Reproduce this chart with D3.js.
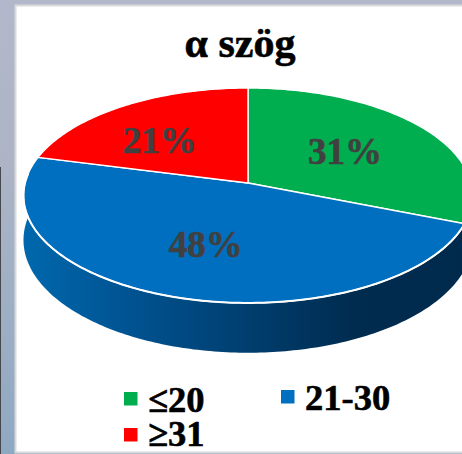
<!DOCTYPE html>
<html lang="hu">
<head>
<meta charset="utf-8">
<title>α szög</title>
<script src="https://cdn.jsdelivr.net/npm/d3@7"></script>
<style>
  html, body { margin: 0; padding: 0; background: #fff; overflow: hidden; }
  svg { display: block; }
  text { font-family: "Liberation Serif", serif; font-weight: bold; paint-order: stroke; stroke-width: 0.6px; stroke-linejoin: round; }
</style>
</head>
<body>
<svg id="chart" width="462" height="454"></svg>
<script>
// Slice categories and shares, clockwise from twelve o'clock
const categories = ["≤20", "21-30", "≥31"];
const shares = [31, 48, 21];
const sliceColors = ["#00ae4f", "#006fc0", "#ff0000"];
const chartTitle = "α szög";

const W = 462, H = 454;
const svg = d3.select("#chart");
const defs = svg.append("defs");

// Slide backdrop behind the white panel
const bg = defs.append("linearGradient").attr("id", "slideBg")
  .attr("x1", 0).attr("y1", 0).attr("x2", 0).attr("y2", 1);
[[0, "#b3b7cb"], [0.35, "#adb4c6"], [0.65, "#9fb0c4"], [1, "#8fa8c2"]]
  .forEach(([o, c]) => bg.append("stop").attr("offset", o).attr("stop-color", c));
svg.append("rect").attr("width", W).attr("height", H).attr("fill", "url(#slideBg)");
svg.append("rect").attr("x", 0).attr("y", 167).attr("width", 1).attr("height", H - 167).attr("fill", "#45474c");

// White panel with its pale border
svg.append("rect").attr("x", 15.5).attr("y", 5.5).attr("width", W).attr("height", 447)
  .attr("fill", "#fff").attr("stroke", "#d9d9d9").attr("stroke-width", 2);

// Perspective tilt: maps a point of the unit disc to the screen
const cx = 248, apexY = 183, radius = 223, lift = 84.8, foreshorten = -0.116, wallDepth = 44;
const project = (angle, r = 1, drop = 0) => {
  const u = r * Math.sin(angle), v = -r * Math.cos(angle);
  const w = 1 + foreshorten * v;
  return [cx + radius * u / w, (lift * v + apexY) / w + drop / w];
};

const arcs = d3.pie().value(d => d).sort(null)(shares);
const line = d3.line();
const sampleAngles = (a0, a1) => {
  const n = Math.max(2, Math.ceil(Math.abs(a1 - a0) * 60));
  return d3.range(n + 1).map(i => a0 + (a1 - a0) * i / n);
};

// Side wall, drawn along the front rim of the disc
const wallStart = Math.PI * 0.46, wallEnd = Math.PI * 1.53;
const rimTop = sampleAngles(wallStart, wallEnd).map(a => project(a));
const rimBottom = sampleAngles(wallEnd, wallStart).map(a => project(a, 1, wallDepth));
const wallGrad = defs.append("linearGradient").attr("id", "wallShade")
  .attr("gradientUnits", "userSpaceOnUse")
  .attr("x1", 24).attr("y1", 0).attr("x2", 462).attr("y2", 0);
[[0, "#0068ad"], [0.25, "#005290"], [0.5, "#003f70"], [0.75, "#002c50"], [1, "#002a4c"]]
  .forEach(([o, c]) => wallGrad.append("stop").attr("offset", o).attr("stop-color", c));
svg.append("path")
  .attr("d", line(rimTop.concat(rimBottom)) + "Z")
  .attr("fill", "url(#wallShade)");

// Top face slices
svg.append("g").selectAll("path").data(arcs).join("path")
  .attr("d", d => {
    const edge = sampleAngles(d.startAngle, d.endAngle).map(a => project(a));
    return line([project(0, 0)].concat(edge)) + "Z";
  })
  .attr("fill", (d, i) => sliceColors[i])
  .attr("stroke", "#fff")
  .attr("stroke-width", 1.4)
  .attr("stroke-linejoin", "round");

// Brighter highlight on the front rim
svg.append("path")
  .attr("d", line(rimTop))
  .attr("fill", "none").attr("stroke", "#fff").attr("stroke-width", 2);

// Percentage labels placed inside their slices, each shifted off the slice's midline
const labelRadius = [0.62, 0.55, 0.62];
const labelShift = [[-13, 4.5], [-2, 3], [-8, 7]];
const labelPos = (d, i) => {
  const p = project((d.startAngle + d.endAngle) / 2, labelRadius[i]);
  return [p[0] + labelShift[i][0], p[1] + labelShift[i][1]];
};
svg.append("g").selectAll("text").data(arcs).join("text")
  .attr("x", (d, i) => labelPos(d, i)[0])
  .attr("y", (d, i) => labelPos(d, i)[1])
  .attr("text-anchor", "middle")
  .attr("dy", "0.33em")
  .attr("font-size", 37)
  .attr("fill", "#404040")
  .attr("stroke", "#404040")
  .text(d => d.value + "%");

// Title
svg.append("text").attr("x", 240).attr("y", 57)
  .attr("text-anchor", "middle").attr("font-size", 42)
  .attr("fill", "#000").attr("stroke", "#000")
  .text(chartTitle);

// Legend: two entries on the first row, one on the second
const legendSlots = [[124, 412], [281, 410], [124, 446]];
const legend = svg.append("g").selectAll("g").data(categories).join("g")
  .attr("transform", (d, i) => `translate(${legendSlots[i]})`);
legend.append("rect")
  .attr("x", 0).attr("y", (d, i) => i === 2 ? -18 : -20)
  .attr("width", 13.5).attr("height", 13.5)
  .attr("fill", (d, i) => sliceColors[i]);
legend.append("text")
  .attr("x", 24).attr("font-size", 36.5)
  .attr("fill", "#000").attr("stroke", "#000")
  .text(d => d);
</script>
</body>
</html>
